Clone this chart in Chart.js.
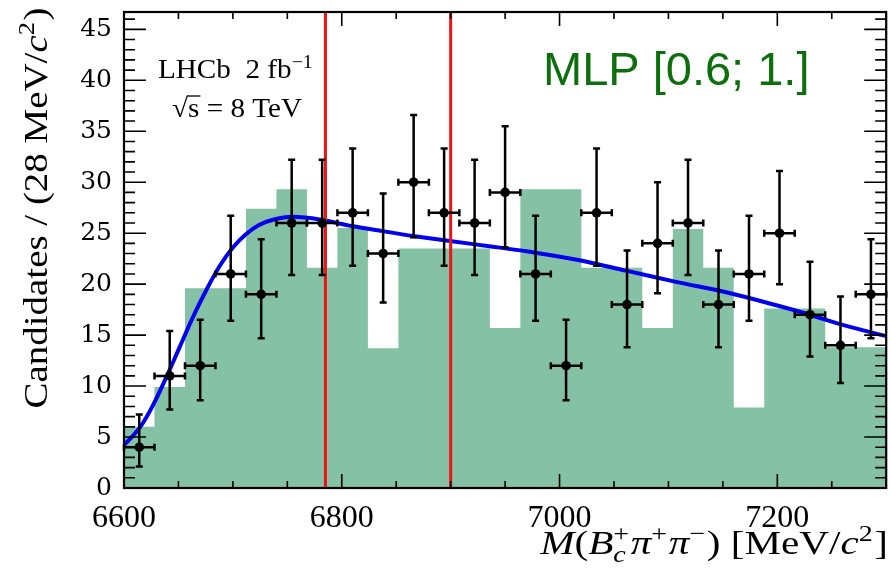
<!DOCTYPE html>
<html>
<head>
<meta charset="utf-8">
<script src="https://cdn.jsdelivr.net/npm/chart.js@4/dist/chart.umd.min.js"></script>
<style>
  html, body { margin: 0; padding: 0; background: #fff; }
  canvas { display: block; }
</style>
</head>
<body>
<canvas id="chart" width="891" height="571"></canvas>
<script>
  "use strict";

  // bin centres, MeV/c^2 (28 MeV bins)
  const massCentres = [6614, 6642, 6670, 6698, 6726, 6754, 6782, 6810, 6838, 6866, 6894, 6922, 6950,
    6978, 7006, 7034, 7062, 7090, 7118, 7146, 7174, 7202, 7230, 7258, 7286];
  // observed candidates and their asymmetric errors
  const counts = [4, 11, 12, 21, 19, 26, 26, 27, 23, 30, 27, 26, 29, 21, 12, 27, 18, 24, 26, 18, 21, 25, 17, 14, 19];
  const errUp = [3.2, 4.4, 4.5, 5.7, 5.4, 6.2, 6.2, 6.3, 5.9, 6.6, 6.3, 6.2, 6.5, 5.7, 4.5, 6.3, 5.3, 6.0, 6.2, 5.3, 5.7, 6.1, 5.2, 4.8, 5.4];
  const errDown = [1.9, 3.3, 3.4, 4.6, 4.3, 5.1, 5.1, 5.2, 4.8, 5.4, 5.2, 5.1, 5.4, 4.6, 3.4, 5.2, 4.2, 4.9, 5.1, 4.2, 4.6, 5.0, 4.1, 3.7, 4.3];
  // green template histogram, same bins
  const templateLevels = [6.0, 9.9, 19.6, 19.6, 27.4, 29.3, 21.6, 25.5, 13.7, 23.5, 23.5, 23.5, 15.7,
    29.3, 29.3, 21.6, 21.6, 15.7, 25.4, 21.6, 7.9, 17.6, 17.6, 13.8, 13.8];
  const fitMass = [6600, 6615, 6627, 6639, 6651, 6663, 6676, 6688, 6700, 6712, 6724, 6736, 6755, 6782,
    6809, 6837, 6867, 6901, 6937, 6971, 7016, 7062, 7108, 7153, 7200, 7230, 7260, 7300];
  const fitValue = [4.2, 6.0, 8.2, 10.9, 13.8, 16.7, 19.5, 21.8, 23.6, 24.9, 25.8, 26.3, 26.6, 26.3,
    25.7, 25.2, 24.7, 24.2, 23.7, 23.2, 22.4, 21.3, 20.2, 19.2, 17.9, 17.0, 16.0, 14.9];
  // red vertical markers
  const windowEdges = [6785, 6900];

  const xMin = 6600, xMax = 7300, yMin = 0, yMax = 46.7;
  const binHalf = (massCentres[1] - massCentres[0]) / 2;

  const SERIF = '"Liberation Serif", "Times New Roman", serif';

  function serifFont(size, italic) {
    return (italic ? "italic " : "") + size + "px " + SERIF;
  }

  function partWidth(ctx, p, size) {
    if (p.t !== undefined) {
      ctx.font = serifFont(size, p.it);
      return ctx.measureText(p.t).width;
    }
    const s = size * 0.68;
    let w = 0;
    if (p.sup) { ctx.font = serifFont(s, false); w = Math.max(w, ctx.measureText(p.sup).width); }
    if (p.sub) { ctx.font = serifFont(s, p.subIt); w = Math.max(w, ctx.measureText(p.sub).width); }
    return w + size * 0.04;
  }

  // draws mixed italic / super / subscript text at the origin (baseline)
  function drawRich(ctx, parts, size, align) {
    const widths = parts.map((p) => partWidth(ctx, p, size));
    const total = widths.reduce((a, b) => a + b, 0);
    let cx = align === "right" ? -total : align === "center" ? -total / 2 : 0;
    ctx.textAlign = "left";
    ctx.textBaseline = "alphabetic";
    parts.forEach((p, i) => {
      if (p.t !== undefined) {
        ctx.font = serifFont(size, p.it);
        ctx.fillText(p.t, cx, 0);
      } else {
        const s = size * 0.68;
        if (p.sup) { ctx.font = serifFont(s, false); ctx.fillText(p.sup, cx, -size * 0.38); }
        if (p.sub) { ctx.font = serifFont(s, p.subIt); ctx.fillText(p.sub, cx, size * 0.24); }
      }
      cx += widths[i];
    });
    return total;
  }

  const decorations = {
    id: "decorations",
    afterDatasetsDraw(chart) {
      const { ctx, chartArea: a } = chart;
      const x = chart.scales.x, y = chart.scales.y;
      ctx.save();

      // error bars
      ctx.strokeStyle = "#000";
      ctx.lineWidth = 2.5;
      const cap = 3.5;
      massCentres.forEach((m, i) => {
        const px = x.getPixelForValue(m);
        const py = y.getPixelForValue(counts[i]);
        const top = y.getPixelForValue(counts[i] + errUp[i]);
        const bot = y.getPixelForValue(counts[i] - errDown[i]);
        const l = x.getPixelForValue(m - binHalf);
        const r = x.getPixelForValue(m + binHalf);
        ctx.beginPath();
        ctx.moveTo(px, top); ctx.lineTo(px, bot);
        ctx.moveTo(l, py); ctx.lineTo(r, py);
        ctx.moveTo(px - cap, top); ctx.lineTo(px + cap, top);
        ctx.moveTo(px - cap, bot); ctx.lineTo(px + cap, bot);
        ctx.moveTo(l, py - cap); ctx.lineTo(l, py + cap);
        ctx.moveTo(r, py - cap); ctx.lineTo(r, py + cap);
        ctx.stroke();
      });

      // frame and inward ticks
      ctx.lineWidth = 2.2;
      ctx.strokeRect(a.left, a.top, a.width, a.height);
      ctx.lineWidth = 1.6;
      ctx.beginPath();
      for (let v = xMin; v <= xMax; v += 50) {
        const px = x.getPixelForValue(v);
        const len = v % 200 === 0 ? 14 : 7;
        ctx.moveTo(px, a.bottom); ctx.lineTo(px, a.bottom - len);
        ctx.moveTo(px, a.top); ctx.lineTo(px, a.top + len);
      }
      for (let v = yMin; v <= yMax; v += 1) {
        const py = y.getPixelForValue(v);
        const len = v % 5 === 0 ? 22 : 11;
        ctx.moveTo(a.left, py); ctx.lineTo(a.left + len, py);
        ctx.moveTo(a.right, py); ctx.lineTo(a.right - len, py);
      }
      ctx.stroke();
      ctx.restore();
    },
    afterDraw(chart) {
      const { ctx } = chart;
      ctx.save();
      ctx.fillStyle = "#000";

      // y axis title
      ctx.save();
      ctx.translate(47, 208);
      ctx.rotate(-Math.PI / 2);
      ctx.scale(1.18, 1);
      drawRich(ctx, [
        { t: "Candidates / (28 MeV/" }, { t: "c", it: true }, { sup: "2" }, { t: ")" },
      ], 33, "center");
      ctx.restore();

      // x axis title
      ctx.save();
      ctx.translate(888, 554);
      ctx.scale(1.21, 1);
      drawRich(ctx, [
        { t: "M", it: true }, { t: "(" }, { t: "B", it: true }, { sup: "+", sub: "c", subIt: true },
        { t: "\u03C0", it: true }, { sup: "+" }, { t: "\u03C0", it: true }, { sup: "\u2212" },
        { t: ") [MeV/" }, { t: "c", it: true }, { sup: "2" }, { t: "]" },
      ], 34, "right");
      ctx.restore();

      // LHCb label
      ctx.save();
      ctx.translate(158, 78);
      ctx.scale(1.08, 1);
      drawRich(ctx, [{ t: "LHCb  2 fb" }, { sup: "\u22121" }], 27, "left");
      ctx.restore();

      ctx.save();
      ctx.translate(172, 117);
      ctx.scale(1.08, 1);
      ctx.font = serifFont(27, false);
      const rootW = ctx.measureText("\u221A").width;
      const sW = ctx.measureText("s").width;
      drawRich(ctx, [{ t: "\u221As = 8 TeV" }], 27, "left");
      ctx.lineWidth = 1.3;
      ctx.beginPath();
      ctx.moveTo(rootW - 1, -21);
      ctx.lineTo(rootW + sW + 1, -21);
      ctx.stroke();
      ctx.restore();

      // MLP bin label
      ctx.font = '47px "Liberation Sans", Arial, sans-serif';
      ctx.fillStyle = "#0c6f0c";
      ctx.textAlign = "left";
      ctx.textBaseline = "alphabetic";
      ctx.fillText("MLP [0.6; 1.]", 543, 85);
      ctx.restore();
    },
  };

  const templatePoints = massCentres.map((m, i) => ({ x: m - binHalf, y: templateLevels[i] }));
  templatePoints.push({ x: xMax, y: templateLevels[templateLevels.length - 1] });

  const datasets = [
    {
      data: templatePoints,
      stepped: "before",
      fill: "origin",
      backgroundColor: "#85c1a4",
      borderColor: "rgba(0,0,0,0)",
      borderWidth: 0,
      pointRadius: 0,
      order: 4,
    },
    {
      data: fitMass.map((m, i) => ({ x: m, y: fitValue[i] })),
      borderColor: "#0000ee",
      borderWidth: 4,
      pointRadius: 0,
      tension: 0.35,
      fill: false,
      order: 3,
    },
  ];
  windowEdges.forEach((m) => {
    datasets.push({
      data: [{ x: m, y: yMin }, { x: m, y: yMax }],
      borderColor: "#f01212",
      borderWidth: 3,
      pointRadius: 0,
      fill: false,
      order: 2,
    });
  });
  datasets.push({
    data: massCentres.map((m, i) => ({ x: m, y: counts[i] })),
    showLine: false,
    pointRadius: 4.8,
    pointBackgroundColor: "#000",
    pointBorderColor: "#000",
    pointBorderWidth: 0,
    fill: false,
    order: 1,
  });

  new Chart(document.getElementById("chart"), {
    type: "line",
    data: { datasets },
    options: {
      responsive: false,
      animation: false,
      devicePixelRatio: 1,
      events: [],
      layout: { padding: { top: 12, right: 2, left: 0, bottom: 0 } },
      plugins: { legend: { display: false }, tooltip: { enabled: false } },
      scales: {
        x: {
          type: "linear",
          min: xMin,
          max: xMax,
          grid: { display: false, drawTicks: false },
          border: { display: false },
          ticks: {
            stepSize: 200,
            includeBounds: false,
            autoSkip: false,
            maxRotation: 0,
            padding: 11,
            color: "#000",
            font: { family: SERIF, size: 32 },
            callback: (v) => String(v),
          },
          afterFit(scale) {
            scale.height = 83;
            scale.paddingLeft = 0;
            scale.paddingRight = 0;
          },
        },
        y: {
          min: yMin,
          max: yMax,
          grid: { display: false, drawTicks: false },
          border: { display: false },
          ticks: {
            stepSize: 5,
            includeBounds: false,
            padding: 12,
            color: "#000",
            font: { family: '"DejaVu Serif", serif', size: 25 },
            callback: (v) => String(v),
          },
          afterFit(scale) {
            scale.width = 124;
            scale.paddingTop = 0;
            scale.paddingBottom = 0;
          },
        },
      },
    },
    plugins: [decorations],
  });
</script>
</body>
</html>
